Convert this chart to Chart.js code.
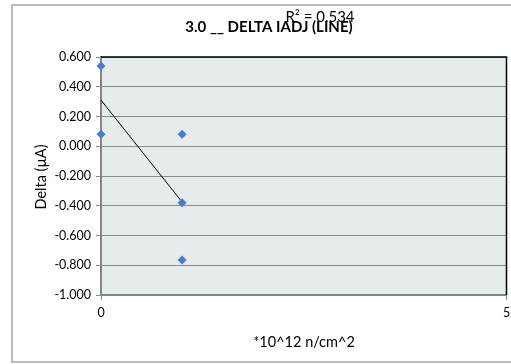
<!DOCTYPE html>
<html>
<head>
<meta charset="utf-8">
<script src="https://cdn.jsdelivr.net/npm/chart.js@4/dist/chart.umd.min.js"></script>
<style>
  html, body { margin: 0; padding: 0; background: #fff; }
  #wrap { width: 511px; height: 364px; }
</style>
</head>
<body>
<div id="wrap"><canvas id="chart" width="511" height="364"></canvas></div>
<script>
// measured points (x in 10^12 n/cm^2, y in µA)
const fluence = [0, 0, 1, 1, 1];
const delta = [0.54, 0.08, 0.08, -0.38, -0.765];
// trendline ends
const trendX = [0, 1];
const trendY = [0.31, -0.375];
const yTicks = [-1, -0.8, -0.6, -0.4, -0.2, 0, 0.2, 0.4, 0.6];
const xTicks = [0, 5];

const titleText = '3.0 __ DELTA IADJ (LINE)';
const r2Text = 'R² = 0.534';
const yTitle = 'Delta (µA)';
const xTitle = '*10^12 n/cm^2';

const FONT = 'Lato, "Open Sans", sans-serif';

const decor = {
    id: 'decor',
    beforeDraw(chart) {
        const ctx = chart.ctx;
        const a = chart.chartArea;
        ctx.save();
        ctx.fillStyle = '#ffffff';
        ctx.fillRect(0, 0, chart.width, chart.height);
        ctx.strokeStyle = '#bdbdbd';
        ctx.lineWidth = 2;
        ctx.strokeRect(12, 5, 520, 357);
        ctx.fillStyle = '#e6ebeb';
        ctx.fillRect(a.left, a.top, a.right - a.left, a.bottom - a.top);
        ctx.restore();
    },
    afterDatasetsDraw(chart) {
        const ctx = chart.ctx;
        const a = chart.chartArea;
        ctx.save();
        ctx.strokeStyle = '#000000';
        ctx.lineWidth = 1.5;
        ctx.beginPath();
        ctx.moveTo(a.left, a.top);
        ctx.lineTo(a.right, a.top);
        ctx.lineTo(a.right, a.bottom);
        ctx.stroke();

        ctx.fillStyle = '#000000';
        ctx.textAlign = 'center';
        ctx.textBaseline = 'middle';
        ctx.font = 'bold 15px ' + FONT;
        ctx.fillText(titleText, 269, 27);
        ctx.font = '15px ' + FONT;
        ctx.fillText(r2Text, 320, 17);
        ctx.font = '14.5px ' + FONT;
        ctx.fillText(xTitle, 304, 342);
        ctx.translate(41, 177);
        ctx.rotate(-Math.PI / 2);
        ctx.fillText(yTitle, 0, 0);
        ctx.restore();
    }
};

new Chart(document.getElementById('chart'), {
    type: 'scatter',
    data: {
        datasets: [
            {
                label: 'Delta',
                data: fluence.map((x, i) => ({x: x, y: delta[i]})),
                pointStyle: 'rectRot',
                pointRadius: 4.5,
                pointBackgroundColor: '#4a7bd0',
                pointBorderColor: '#4a7bd0',
                pointBorderWidth: 0,
                clip: false,
                order: 1
            },
            {
                label: 'Trend',
                data: trendX.map((x, i) => ({x: x, y: trendY[i]})),
                showLine: true,
                borderColor: '#000000',
                borderWidth: 1,
                pointRadius: 0,
                clip: false,
                order: 2
            }
        ]
    },
    options: {
        responsive: false,
        animation: false,
        devicePixelRatio: 1,
        layout: {padding: {left: 0, top: 57, right: 4, bottom: 0}},
        plugins: {
            legend: {display: false},
            title: {display: false},
            tooltip: {enabled: false}
        },
        scales: {
            x: {
                type: 'linear',
                min: 0,
                max: 5,
                afterBuildTicks: (s) => { s.ticks = xTicks.map(v => ({value: v})); },
                afterFit: (s) => { s.height = 69; s.paddingLeft = 0; s.paddingRight = 0; },
                grid: {drawOnChartArea: false, tickLength: 5, color: '#868686'},
                border: {color: '#868686', width: 2},
                ticks: {
                    padding: 5,
                    color: '#000',
                    font: {family: FONT, size: 12.5},
                    maxRotation: 0
                }
            },
            y: {
                min: -1,
                max: 0.6,
                afterBuildTicks: (s) => { s.ticks = yTicks.map(v => ({value: v})); },
                afterFit: (s) => { s.width = 101; },
                grid: {color: '#8c8c8c', tickLength: 5, lineWidth: 1},
                border: {color: '#868686', width: 2},
                ticks: {
                    padding: 5,
                    color: '#000',
                    font: {family: FONT, size: 12.5},
                    callback: (v) => Number(v).toFixed(3)
                }
            }
        }
    },
    plugins: [decor]
});
</script>
</body>
</html>
